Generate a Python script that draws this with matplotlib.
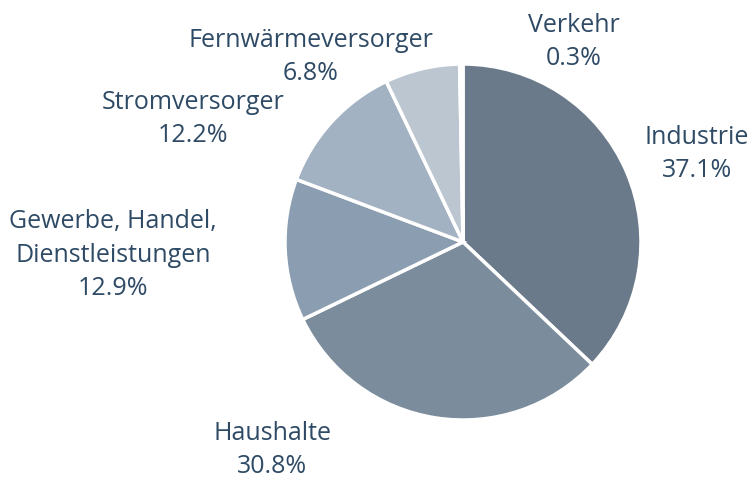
import matplotlib.pyplot as plt

# Daten
kategorien = ["Industrie", "Haushalte", "Gewerbe, Handel,\nDienstleistungen",
              "Stromversorger", "Fernwärmeversorger", "Verkehr"]
anteile = [37.1, 30.8, 12.9, 12.2, 6.8, 0.3]
farben = ["#6a7a8a", "#7b8c9c", "#8b9db0", "#a3b2c3", "#bcc6d1", "#d3dbe3"]

# Label-Positionen in Pixeln (Layout)
label_pos = [(697, 154), (272, 450), (113, 255), (193, 119), (311, 57), (574, 42)]

W, H = 752, 479
fig = plt.figure(figsize=(W / 100, H / 100), dpi=100)

cx, cy, r = 463, 242, 178
ax = fig.add_axes([(cx - r) / W, (H - cy - r) / H, 2 * r / W, 2 * r / H])
ax.pie(anteile, colors=farben, startangle=90, counterclock=False, radius=1,
       wedgeprops=dict(edgecolor="white", linewidth=2.5))
ax.set_xlim(-1, 1)
ax.set_ylim(-1, 1)
ax.set_aspect("equal")
ax.axis("off")

textfarbe = "#2e4a65"
for name, wert, (x, y) in zip(kategorien, anteile, label_pos):
    fig.text(x / W, 1 - y / H, f"{name}\n{wert:.1f}%", ha="center", va="center",
             fontsize=18, family="Open Sans", color=textfarbe, linespacing=1.45)

fig.savefig("out.png", dpi=100)
